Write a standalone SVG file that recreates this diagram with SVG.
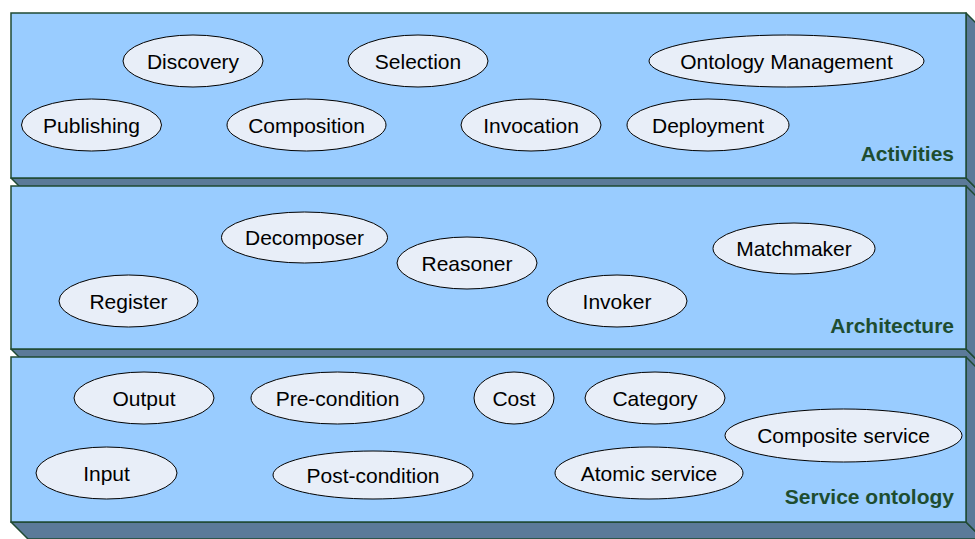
<svg xmlns="http://www.w3.org/2000/svg" width="975" height="539" viewBox="0 0 975 539">
<style>
.front{fill:#99CCFF;stroke:#1F4A33;stroke-width:1.5}
.depth{fill:#5B7A99;stroke:#1F4A33;stroke-width:1.5;stroke-linejoin:round}
.node ellipse{fill:#E8EEF8;stroke:#000;stroke-width:1}
.node text{font-family:"Liberation Sans",Arial,sans-serif;font-size:21px;fill:#000;text-anchor:middle}
.lbl{font-family:"Liberation Sans",Arial,sans-serif;font-size:21px;font-weight:bold;fill:#1E4D30;text-anchor:end}
</style>
<rect width="975" height="539" fill="#fff"/>
<g id="layer-activities">
<polygon class="depth" points="11,178 966,178 983,195 28,195"/>
<polygon class="depth" points="966,13 983,30 983,195 966,178"/>
<rect class="front" x="11" y="13" width="955" height="165"/>
<text class="lbl" x="954" y="161">Activities</text>
</g>
<g id="layer-architecture">
<polygon class="depth" points="11,349 966,349 983,366 28,366"/>
<polygon class="depth" points="966,186 983,203 983,366 966,349"/>
<rect class="front" x="11" y="186" width="955" height="163"/>
<text class="lbl" x="954" y="333">Architecture</text>
</g>
<g id="layer-ontology">
<polygon class="depth" points="11,522 966,522 983,539 28,539"/>
<polygon class="depth" points="966,357 983,374 983,539 966,522"/>
<rect class="front" x="11" y="357" width="955" height="165"/>
<text class="lbl" x="954" y="504">Service ontology</text>
</g>
<g id="connectors"></g>
<g id="discovery" class="node"><ellipse cx="193" cy="61" rx="70" ry="26"/><text x="193" y="68.5">Discovery</text></g>
<g id="selection" class="node"><ellipse cx="418" cy="61" rx="70" ry="26"/><text x="418" y="68.5">Selection</text></g>
<g id="ontology-management" class="node"><ellipse cx="786.5" cy="61" rx="137.5" ry="26"/><text x="786.5" y="68.5">Ontology Management</text></g>
<g id="publishing" class="node"><ellipse cx="91.5" cy="125" rx="70" ry="26"/><text x="91.5" y="132.5">Publishing</text></g>
<g id="composition" class="node"><ellipse cx="306.5" cy="125" rx="79.5" ry="26"/><text x="306.5" y="132.5">Composition</text></g>
<g id="invocation" class="node"><ellipse cx="531" cy="125" rx="70" ry="26"/><text x="531" y="132.5">Invocation</text></g>
<g id="deployment" class="node"><ellipse cx="708" cy="125" rx="81" ry="26"/><text x="708" y="132.5">Deployment</text></g>
<g id="decomposer" class="node"><ellipse cx="304.5" cy="237.5" rx="83" ry="25.5"/><text x="304.5" y="245">Decomposer</text></g>
<g id="reasoner" class="node"><ellipse cx="467" cy="263" rx="70" ry="26"/><text x="467" y="270.5">Reasoner</text></g>
<g id="matchmaker" class="node"><ellipse cx="794" cy="248.5" rx="81" ry="25.5"/><text x="794" y="256">Matchmaker</text></g>
<g id="register" class="node"><ellipse cx="128.5" cy="301" rx="69.5" ry="26"/><text x="128.5" y="308.5">Register</text></g>
<g id="invoker" class="node"><ellipse cx="617" cy="301" rx="70" ry="26"/><text x="617" y="308.5">Invoker</text></g>
<g id="output" class="node"><ellipse cx="144" cy="398" rx="70" ry="26"/><text x="144" y="405.5">Output</text></g>
<g id="pre-condition" class="node"><ellipse cx="337.5" cy="398" rx="86.5" ry="26"/><text x="337.5" y="405.5">Pre-condition</text></g>
<g id="cost" class="node"><ellipse cx="514" cy="398" rx="40" ry="26"/><text x="514" y="405.5">Cost</text></g>
<g id="category" class="node"><ellipse cx="655" cy="398" rx="70" ry="26"/><text x="655" y="405.5">Category</text></g>
<g id="composite-service" class="node"><ellipse cx="843.5" cy="435.5" rx="118.5" ry="26.5"/><text x="843.5" y="443">Composite service</text></g>
<g id="input" class="node"><ellipse cx="106.5" cy="473" rx="70.5" ry="26"/><text x="106.5" y="480.5">Input</text></g>
<g id="post-condition" class="node"><ellipse cx="373" cy="475" rx="100" ry="24"/><text x="373" y="482.5">Post-condition</text></g>
<g id="atomic-service" class="node"><ellipse cx="649" cy="473" rx="94" ry="26"/><text x="649" y="480.5">Atomic service</text></g>
</svg>
